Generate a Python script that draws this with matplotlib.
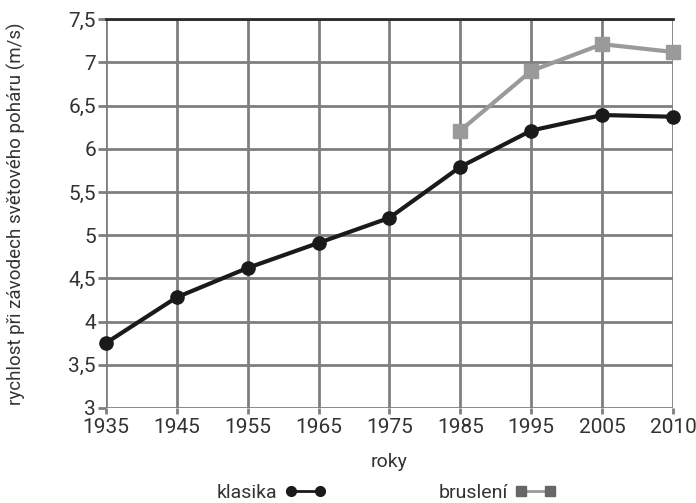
import matplotlib
matplotlib.use("Agg")
from matplotlib import pyplot as plt
from matplotlib.lines import Line2D

# data
roky = ["1935", "1945", "1955", "1965", "1975", "1985", "1995", "2005", "2010"]
klasika = [3.75, 4.28, 4.62, 4.91, 5.2, 5.79, 6.21, 6.39, 6.37]
bruslení_roky = ["1985", "1995", "2005", "2010"]
bruslení = [6.21, 6.9, 7.21, 7.12]
y_ticks = [3, 3.5, 4, 4.5, 5, 5.5, 6, 6.5, 7, 7.5]

plt.rcParams['font.family'] = ['Roboto', 'DejaVu Sans']

fig = plt.figure(figsize=(6.96, 5.03), dpi=100)
ax = fig.add_axes([0.152, 0.189, 0.815, 0.773])

x_k = list(range(len(roky)))
x_b = [roky.index(r) for r in bruslení_roky]

ax.plot(x_k, klasika, color="#1a1a1a", lw=3, marker="o", ms=9.5,
        clip_on=False, zorder=4)
ax.plot(x_b, bruslení, color="#9a9a9a", lw=3, marker="s", ms=9.5,
        clip_on=False, zorder=3)

ax.set_xlim(0, len(roky) - 1)
ax.set_ylim(3, 7.5)
ax.set_xticks(range(len(roky)))
ax.set_xticklabels(roky)
ax.set_yticks(y_ticks)
ax.set_yticklabels([("%g" % v).replace(".", ",") for v in y_ticks])

ax.grid(True, color="#7f7f7f", lw=2)
ax.set_axisbelow(True)
for s in ["left", "right", "bottom"]:
    ax.spines[s].set_visible(False)
ax.spines["top"].set_color("#2a2a2a")
ax.spines["top"].set_linewidth(2)
ax.tick_params(axis="y", length=6, width=2, color="#7f7f7f", pad=1,
               labelsize=15, labelcolor="#333333")
ax.tick_params(axis="x", length=4, width=2, color="#7f7f7f", pad=3,
               labelsize=15, labelcolor="#333333")

ax.set_xlabel("roky", fontsize=14, color="#333333")
ax.xaxis.set_label_coords(0.5, -0.115)
ax.set_ylabel("rychlost při závodech světového poháru (m/s)", fontsize=13.5,
              color="#333333")
ax.yaxis.set_label_coords(-0.14, 0.5)

# legend handles drawn like the reference: thin line, markers at both ends
h_k = Line2D([], [], color="#1a1a1a", lw=2, marker="o", ms=7)
h_b = Line2D([], [], color="#9a9a9a", lw=2, marker="s", ms=7,
             markerfacecolor="#666666", markeredgecolor="#666666")
leg = fig.legend([h_k, h_b], ["klasika", "bruslení"], loc="center",
                 bbox_to_anchor=(0.555, 0.02), ncol=2, markerfirst=False,
                 frameon=False, fontsize=14, numpoints=2, handlelength=2.1,
                 columnspacing=5.8, handletextpad=0.4)
for t in leg.get_texts():
    t.set_color("#333333")

fig.savefig("out.png", dpi=100)
